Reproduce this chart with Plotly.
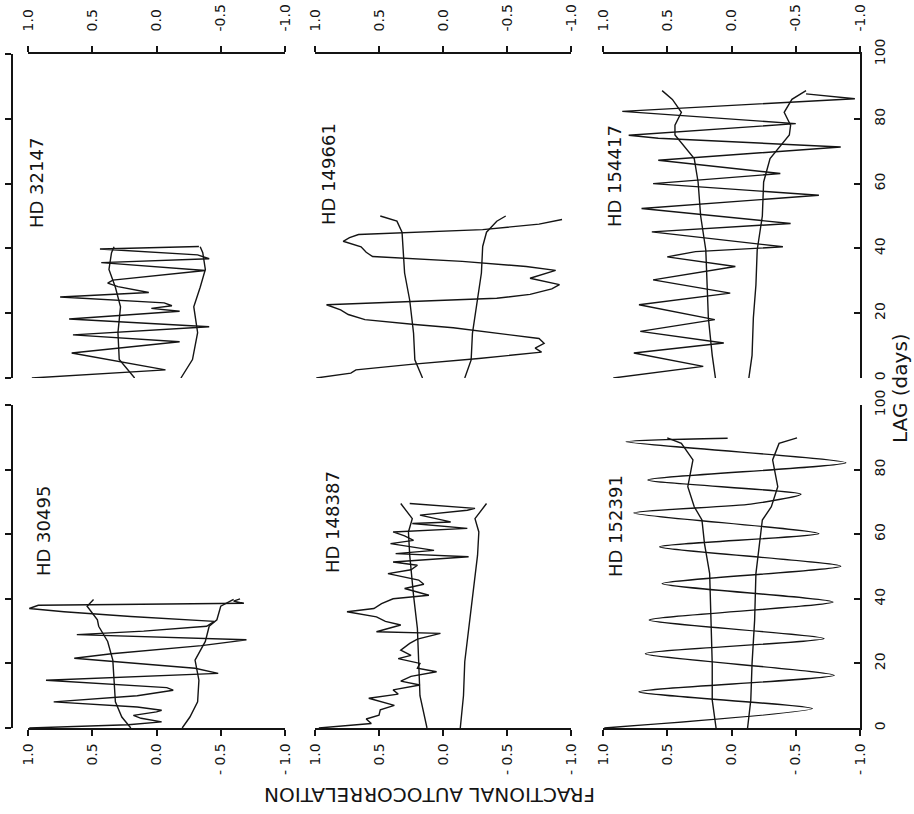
import plotly.graph_objects as go

W, H = 914, 814

# ---------------- data (lag in days, fractional autocorrelation) ----------------
hd32147_lag = [0, 2.5, 7.7, 11.2, 13.3, 15.8, 18.2, 20.6, 21.5, 22.3, 23.2, 25.0, 26.4, 28.2, 29.3, 30.2, 33.2, 35.6, 36.8, 38.0, 39.8, 40.6]
hd32147_r = [0.97, -0.07, 0.66, -0.18, 0.65, -0.41, 0.68, -0.18, 0.04, -0.12, -0.06, 0.75, 0.06, 0.30, 0.38, 0.34, -0.38, 0.43, -0.41, -0.32, 0.44, -0.33]
hd32147_env_lag = [0, 5.7, 14, 22, 28, 33.5, 38.7, 40.5]
hd32147_up = [0.17, 0.29, 0.30, 0.28, 0.32, 0.37, 0.35, 0.33]
hd32147_lo = [-0.19, -0.28, -0.32, -0.29, -0.34, -0.38, -0.36, -0.34]

hd149661_lag = [0, 1.5, 2.5, 4.2, 6.0, 8.0, 9.2, 10.7, 12.2, 13.9, 15.5, 16.5, 18.0, 19.6, 21.0, 22.6, 23.6, 24.6, 25.8, 27.5, 28.8, 30.8, 33.2, 34.4, 36.0, 37.5, 38.8, 40.5, 42.2, 43.3, 44.3, 45.8, 47.5, 48.9]
hd149661_r = [0.99, 0.72, 0.68, 0.25, -0.28, -0.77, -0.72, -0.79, -0.75, -0.42, -0.08, 0.22, 0.61, 0.74, 0.80, 0.91, 0.22, -0.42, -0.68, -0.85, -0.91, -0.68, -0.88, -0.65, -0.15, 0.55, 0.60, 0.64, 0.78, 0.73, 0.66, -0.31, -0.75, -0.93]
hd149661_env_lag = [0, 5.6, 13.8, 24, 32.4, 40.6, 45, 48.4, 50]
hd149661_up = [0.16, 0.22, 0.23, 0.26, 0.30, 0.31, 0.32, 0.36, 0.49]
hd149661_lo = [-0.17, -0.22, -0.23, -0.27, -0.30, -0.31, -0.34, -0.42, -0.49]

hd154417_lag = [0, 3.6, 7.7, 10.8, 14.4, 18.0, 22.6, 26.2, 30.3, 34.4, 37.4, 39.0, 40.5, 45.1, 47.7, 52.3, 56.4, 60.0, 63.1, 67.2, 71.3, 74.0, 74.9, 78.5, 82.3, 86.2, 87.7]
hd154417_r = [0.92, 0.22, 0.76, 0.06, 0.71, 0.13, 0.72, 0.01, 0.61, -0.03, 0.50, 0.28, -0.40, 0.62, -0.46, 0.70, -0.68, 0.61, -0.38, 0.57, -0.85, 0.57, 0.80, -0.50, 0.85, -0.96, -0.58]
hd154417_env_lag = [0, 7, 18.5, 28.7, 39.5, 50, 60.5, 67.7, 75, 78, 82, 86, 88.7]
hd154417_up = [0.125, 0.15, 0.18, 0.19, 0.20, 0.24, 0.26, 0.29, 0.44, 0.44, 0.39, 0.46, 0.54]
hd154417_lo = [-0.135, -0.16, -0.17, -0.19, -0.20, -0.24, -0.25, -0.30, -0.45, -0.46, -0.41, -0.47, -0.58]

hd30495_lag = [0, 1.0, 1.9, 3.0, 3.9, 5.0, 5.5, 6.5, 8.1, 10.0, 11.7, 12.5, 14.8, 15.8, 16.9, 18.5, 21.6, 23.0, 25.5, 27.3, 28.9, 30.0, 31.5, 33.0, 34.5, 36.0, 37.0, 38.0, 38.6, 39.3, 40.0]
hd30495_r = [0.99, 0.22, -0.04, 0.12, 0.18, 0.0, -0.04, 0.15, 0.80, 0.15, -0.13, -0.08, 0.86, 0.20, -0.48, -0.30, 0.64, 0.35, -0.35, -0.70, 0.62, 0.10, -0.39, -0.45, 0.20, 0.72, 0.99, 0.92, -0.68, -0.60, -0.65]
hd30495_env_lag = [0, 3.4, 8.1, 14.8, 21, 26.8, 31.5, 33.5, 37.7, 39.8]
hd30495_up = [0.20, 0.27, 0.32, 0.33, 0.34, 0.38, 0.45, 0.46, 0.54, 0.49]
hd30495_lo = [-0.20, -0.26, -0.32, -0.33, -0.30, -0.38, -0.41, -0.47, -0.50, -0.60]

hd148387_lag = [0, 0.8, 1.4, 2.8, 4.0, 5.6, 7.0, 9.2, 10.5, 11.8, 13.3, 14.5, 16.0, 17.4, 18.5, 20.0, 21.5, 22.5, 24.1, 26.2, 27.5, 29.3, 29.8, 31.9, 33.0, 34.4, 36.0, 37.0, 38.5, 40.0, 41.1, 43.2, 44.5, 45.8, 47.8, 49.0, 50.4, 51.4, 53.0, 54.0, 55.0, 57.1, 58.1, 59.5, 60.7, 61.8, 63.3, 63.8, 65.9, 67.4, 68.0, 69.5]
hd148387_r = [0.97, 0.75, 0.56, 0.60, 0.50, 0.49, 0.38, 0.58, 0.35, 0.39, 0.18, 0.33, 0.25, 0.05, 0.20, 0.18, 0.35, 0.25, 0.33, 0.26, 0.20, 0.02, 0.52, 0.33, 0.45, 0.52, 0.75, 0.54, 0.48, 0.39, 0.11, 0.30, 0.15, 0.19, 0.43, 0.25, 0.20, 0.39, -0.20, 0.37, 0.07, 0.41, 0.23, 0.30, 0.39, -0.19, 0.24, -0.06, 0.18, -0.19, -0.25, 0.26]
hd148387_env_lag = [0, 10, 20.5, 30.8, 41, 53.5, 60.7, 64.8, 69.5]
hd148387_up = [0.125, 0.18, 0.19, 0.20, 0.23, 0.26, 0.27, 0.24, 0.33]
hd148387_lo = [-0.135, -0.16, -0.17, -0.20, -0.23, -0.27, -0.28, -0.25, -0.34]

hd152391_lag = [0, 6.0, 11.2, 16.3, 23.0, 27.7, 33.4, 39.0, 44.7, 50.1, 56.1, 60.2, 66.6, 69.3, 72.4, 76.8, 82.1, 88.6, 89.7]
hd152391_r = [0.99, -0.63, 0.72, -0.80, 0.67, -0.72, 0.64, -0.79, 0.54, -0.85, 0.56, -0.68, 0.76, -0.15, -0.54, 0.65, -0.89, 0.82, 0.03]
hd152391_env_lag = [0, 8.6, 20, 33.4, 47.8, 57, 64.4, 68.5, 74.7, 83, 88.1, 89.8]
hd152391_up = [0.12, 0.15, 0.15, 0.16, 0.17, 0.21, 0.23, 0.29, 0.34, 0.30, 0.39, 0.50]
hd152391_lo = [-0.125, -0.15, -0.16, -0.18, -0.19, -0.22, -0.24, -0.31, -0.36, -0.32, -0.37, -0.51]

corr_ticks = [1.0, 0.5, 0.0, -0.5, -1.0]
corr_text_top = ["1.0", "0.5", "0.0", "-0.5", "-1.0"]
corr_text_bottom = ["1.0", "0.5", "0.0", "- 0.5", "- 1.0"]
lag_ticks = [0, 20, 40, 60, 80, 100]
lag_text = ["0", "20", "40", "60", "80", "100"]

# ---------------- layout geometry (pixels) ----------------
INK = "#141414"
FONT = "DejaVu Sans"
col_px = [(28, 285), (315, 571), (603, 860)]
row_px = [(54, 378), (405, 728)]  # (lag 100, lag 0)

panels = [
    ("HD 32147", 0, 0, hd32147_lag, hd32147_r, hd32147_env_lag, hd32147_up, hd32147_lo, (37, 183)),
    ("HD 149661", 0, 1, hd149661_lag, hd149661_r, hd149661_env_lag, hd149661_up, hd149661_lo, (329, 174)),
    ("HD 154417", 0, 2, hd154417_lag, hd154417_r, hd154417_env_lag, hd154417_up, hd154417_lo, (614, 176)),
    ("HD 30495", 1, 0, hd30495_lag, hd30495_r, hd30495_env_lag, hd30495_up, hd30495_lo, (43, 531)),
    ("HD 148387", 1, 1, hd148387_lag, hd148387_r, hd148387_env_lag, hd148387_up, hd148387_lo, (332, 522)),
    ("HD 152391", 1, 2, hd152391_lag, hd152391_r, hd152391_env_lag, hd152391_up, hd152391_lo, (615, 526)),
]

fig = go.Figure()
layout = dict(
    width=W, height=H, margin=dict(l=0, r=0, t=0, b=0, autoexpand=False),
    paper_bgcolor="white", plot_bgcolor="white",
    showlegend=False, font=dict(family=FONT, color=INK),
)
annotations = []

def px_x(p):
    return p / W

def px_y(p):
    return 1 - p / H

for k, (name, row, col, lag, r, elag, up, lo, lpos) in enumerate(panels, start=1):
    xa = "x" if k == 1 else f"x{k}"
    ya = "y" if k == 1 else f"y{k}"
    line = dict(color=INK, width=1.4)
    shape = "spline" if name == "HD 152391" else "linear"
    fig.add_trace(go.Scatter(x=r, y=lag, mode="lines", line=dict(color=INK, width=1.4, shape=shape, smoothing=0.6),
                             xaxis=xa, yaxis=ya, hoverinfo="skip"))
    fig.add_trace(go.Scatter(x=up, y=elag, mode="lines", line=line, xaxis=xa, yaxis=ya, hoverinfo="skip"))
    fig.add_trace(go.Scatter(x=lo, y=elag, mode="lines", line=line, xaxis=xa, yaxis=ya, hoverinfo="skip"))

    x0, x1 = col_px[col]
    ytop, ybot = row_px[row]
    top = row == 0
    xaxis = dict(
        domain=[px_x(x0), px_x(x1)], range=[1.0, -1.0], anchor=ya,
        side="top" if top else "bottom", automargin=False,
        showline=True, linecolor=INK, linewidth=1.5,
        ticks="outside", ticklen=6, tickwidth=1.5, tickcolor=INK,
        tickvals=corr_ticks, ticktext=corr_text_top if top else corr_text_bottom,
        tickangle=-90, tickfont=dict(size=14, family=FONT, color=INK),
        ticklabelstandoff=12 if top else 2,
        showgrid=False, zeroline=False, fixedrange=True,
    )
    yaxis = dict(
        domain=[px_y(ybot), px_y(ytop)], range=[0, 100], automargin=False,
        showgrid=False, zeroline=False, fixedrange=True,
        tickvals=lag_ticks,
    )
    if col == 0:
        yaxis.update(anchor="free", position=px_x(12), side="left", showline=True,
                     linecolor=INK, linewidth=1.5, ticks="outside", ticklen=6,
                     tickwidth=1.5, tickcolor=INK, showticklabels=False)
    elif col == 1:
        yaxis.update(anchor=xa, visible=False)
    else:
        yaxis.update(anchor=xa, side="right", showline=True, linecolor=INK, linewidth=1.5,
                     ticks="inside", ticklen=6, tickwidth=1.5, tickcolor=INK,
                     ticktext=lag_text, tickangle=-90, ticklabelstandoff=6,
                     tickfont=dict(size=14, family=FONT, color=INK))
    layout["xaxis" if k == 1 else f"xaxis{k}"] = xaxis
    layout["yaxis" if k == 1 else f"yaxis{k}"] = yaxis

    annotations.append(dict(text=name, x=px_x(lpos[0]), y=px_y(lpos[1]), xref="paper", yref="paper",
                            showarrow=False, textangle=-90, xanchor="center", yanchor="middle",
                            font=dict(size=18, family=FONT, color=INK)))

annotations.append(dict(text="FRACTIONAL AUTOCORRELATION", x=px_x(430), y=px_y(795), xref="paper", yref="paper",
                        showarrow=False, textangle=180, xanchor="center", yanchor="middle",
                        font=dict(size=20, family=FONT, color=INK)))
annotations.append(dict(text="LAG (days)", x=px_x(900), y=px_y(388), xref="paper", yref="paper",
                        showarrow=False, textangle=-90, xanchor="center", yanchor="middle",
                        font=dict(size=20, family=FONT, color=INK)))
layout["annotations"] = annotations
fig.update_layout(**layout)

fig.write_html("out.html")
